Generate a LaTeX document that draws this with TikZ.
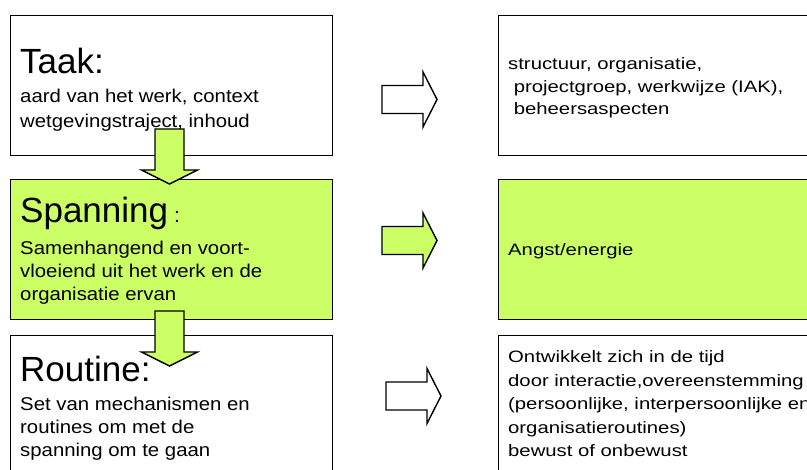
\documentclass[tikz,border=0pt]{standalone}
\usepackage{fontspec}
\setmainfont{Liberation Sans}
\newfontfamily\breedlinks[FakeStretch=1.1]{Liberation Sans}
\newfontfamily\breedrechts[FakeStretch=1.23]{Liberation Sans}
\usetikzlibrary{positioning}
\definecolor{spangreen}{HTML}{CCFF66}

\tikzset{
  box/.style={draw, line width=1.4pt, anchor=north west, inner sep=0pt},
  leftbox/.style={box, minimum width=322pt, minimum height=140pt},
  rightbox/.style={box, minimum width=330pt, minimum height=140pt},
  kop/.style={anchor=base west, inner sep=0pt, font=\fontsize{35}{35}\selectfont},
  tekst/.style={anchor=base west, inner sep=0pt, align=left, font=\breedlinks\fontsize{18.5}{#1}\selectfont},
  tekst/.default=23,
  rtekst/.style={anchor=base west, inner sep=0pt, align=left, font=\breedrechts\fontsize{16.5}{#1}\selectfont},
  rtekst/.default=23.5,
  pics/rpijl/.style={code={
    \draw[line width=1.4pt, fill=#1] (0,-14) -- (41,-14) -- (41,-27.5) -- (55,0)
      -- (41,27.5) -- (41,14) -- (0,14) -- cycle;}},
  pics/opijl/.style={code={
    \draw[line width=1.4pt, fill=spangreen] (-14.5,0) -- (-14.5,41) -- (-28,41) -- (0,55)
      -- (28,41) -- (14.5,41) -- (14.5,0) -- cycle;}}
}

\begin{document}
\begin{tikzpicture}[x=1pt, y=-1pt]
  \useasboundingbox (0,0) rectangle (807,470);
  \clip (0,0) rectangle (807,470);

  % linker kolom
  \node[leftbox] (taak) at (10,15) {};
  \node[leftbox, fill=spangreen] (spanning) at (10,179) {};
  \node[leftbox, minimum height=160pt] (routine) at (10,335) {};

  % rechter kolom
  \node[rightbox] (structuur) at (498,15) {};
  \node[rightbox, fill=spangreen] (angst) at (498,179) {};
  \node[rightbox, minimum height=160pt] (ontwikkelt) at (498,335) {};

  % pijlen
  \pic at (382,99.5) {rpijl=white};
  \pic at (382,240.5) {rpijl=spangreen};
  \pic at (386,396) {rpijl=white};
  \pic at (169.5,129) {opijl};
  \pic at (169.5,311) {opijl};

  % teksten links (base = laatste regel)
  \node[kop] (taakkop) at (20,74) {Taak:};
  \node[tekst=25] (taaktxt) at (20,128) {aard van het werk, context\\wetgevingstraject, inhoud};
  \node[kop] (spankop) at (20,223) {Spanning\hspace{6pt}{\fontsize{21}{21}\selectfont :}};
  \node[tekst] (spantxt) at (20,301) {Samenhangend en voort-\\vloeiend uit het werk en de\\organisatie ervan};
  \node[kop] (routkop) at (20,382) {Routine:};
  \node[tekst=23.5] (routtxt) at (20,457) {Set van mechanismen en\\routines om met de\\spanning om te gaan};

  % teksten rechts
  \node[rtekst=22.5] (structxt) at (508,115)
    {structuur, organisatie,\\\ projectgroep, werkwijze (IAK),\\\ beheersaspecten};
  \node[rtekst] (angsttxt) at (508,256) {Angst/energie};
  \node[rtekst] (ontwtxt) at (508,457) {Ontwikkelt zich in de tijd\\door interactie,overeenstemming\\(persoonlijke, interpersoonlijke en\\organisatieroutines)\\bewust of onbewust};
\end{tikzpicture}
\end{document}
